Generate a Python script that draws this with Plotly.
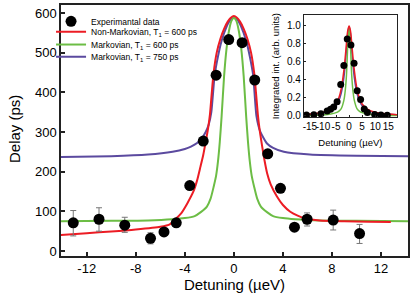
import plotly.graph_objects as go

# ---------------- main panel data ----------------
exp_x = [-13.1, -11.0, -8.9, -6.8, -5.7, -4.7, -3.6, -2.5, -1.45, -0.42, 0.67, 1.7, 2.76, 3.8, 4.94, 5.97, 8.1, 10.25]
exp_y = [71, 80, 65, 32, 48, 71, 165, 277, 443, 533, 525, 431, 245, 158, 60, 80, 78, 44]
err_up = [31, 29, 20, 14, 0, 0, 0, 0, 0, 0, 0, 0, 0, 0, 0, 16, 25, 23]
err_dn = [33, 30, 18, 14, 0, 0, 0, 0, 0, 0, 0, 0, 0, 0, 0, 17, 25, 25]

nm_x = [-14.2, -12, -10, -8, -6, -5.2, -4.78, -4.3, -3.8, -3.3, -3.0, -2.73, -2.5, -2.3, -2.1, -1.95, -1.8,
        -1.65, -1.4, -1.1, -0.8, -0.5, -0.25, 0,
        0.25, 0.5, 0.8, 1.1, 1.4, 1.65, 1.8, 1.95, 2.1, 2.3, 2.5, 2.71, 3.0, 3.5, 4.0, 4.6, 5.2, 5.84,
        7, 9, 11, 12.8]
nm_y = [40, 45, 49, 54, 61, 68, 80, 95, 120, 150, 178, 212, 242, 275, 310, 345, 400,
        450, 500, 535, 560, 578, 588, 592,
        588, 578, 560, 535, 500, 450, 400, 345, 305, 265, 228, 196, 168, 138, 116, 99, 89, 82,
        77, 75, 74, 73]

m600_x = [-14.2, -10, -7, -5, -4, -3.2, -2.7, -2.2, -1.9, -1.65, -1.45, -1.3, -1.15, -1.0, -0.8, -0.6, -0.4, -0.2, 0,
          0.2, 0.4, 0.6, 0.8, 1.0, 1.15, 1.3, 1.45, 1.65, 1.9, 2.2, 2.7, 3.2, 4, 5, 7, 10, 14.2]
m600_y = [75, 76, 77, 80, 83, 88, 98, 112, 132, 162, 190, 225, 275, 340, 440, 510, 555, 580, 588,
          580, 555, 510, 440, 340, 275, 225, 190, 162, 132, 112, 98, 88, 83, 80, 77, 76, 75]

m750_x = [-14.2, -10, -7, -5, -4, -3.5, -3, -2.6, -2.3, -2.06, -1.84, -1.57, -1.3, -1.0, -0.6, -0.3, 0,
          0.3, 0.6, 1.0, 1.3, 1.57, 1.84, 2.16, 2.7, 3.2, 4.07, 6.2, 10, 14.2]
m750_y = [237, 239, 243, 250, 257, 263, 272, 285, 300, 318, 350, 443, 490, 530, 565, 582, 588,
          582, 565, 530, 490, 443, 340, 300, 271, 260, 250, 243, 240, 239]

x_ticks = [-12, -8, -4, 0, 4, 8, 12]
x_ticktext = ["-12", "-8", "-4", "0", "4", "8", "12"]
y_ticks = [0, 100, 200, 300, 400, 500, 600]

# ---------------- inset data ----------------
in_exp_x = [-16.3, -13.5, -10.8, -8.4, -7.1, -5.9, -4.6, -3.2, -2.0, -0.7, 0.7, 1.9, 3.1, 4.4, 5.8, 7.0, 9.8, 12.2, 14.6]
in_exp_y = [0.01, 0.012, 0.022, 0.054, 0.072, 0.098, 0.155, 0.344, 0.554, 0.845, 0.78, 0.58, 0.275, 0.18, 0.076, 0.036, 0.014, 0.01, 0.006]

in_x = [-20, -15, -10, -7, -5, -4, -3, -2, -1.5, -1, -0.5, 0, 0.5, 1, 1.5, 2, 3, 4, 5, 7, 10, 15, 20]
in_nm = [0.01, 0.02, 0.04, 0.075, 0.13, 0.19, 0.3, 0.5, 0.64, 0.8, 0.94, 0.99, 0.94, 0.8, 0.64, 0.5, 0.3, 0.19, 0.13, 0.075, 0.04, 0.02, 0.01]
in_m750 = [0.01, 0.018, 0.035, 0.065, 0.11, 0.16, 0.25, 0.42, 0.56, 0.73, 0.91, 0.98, 0.91, 0.73, 0.56, 0.42, 0.25, 0.16, 0.11, 0.065, 0.035, 0.018, 0.01]
in_m600 = [0.003, 0.005, 0.01, 0.02, 0.035, 0.05, 0.08, 0.17, 0.27, 0.45, 0.78, 0.97, 0.78, 0.45, 0.27, 0.17, 0.08, 0.05, 0.035, 0.02, 0.01, 0.005, 0.003]
in_x_ticks = [-15, -10, -5, 0, 5, 10, 15]
in_x_ticktext = ["-15", "-10", "-5", "0", "5", "10", "15"]
in_y_ticks = [0, 0.2, 0.4, 0.6, 0.8, 1.0]
in_y_ticktext = ["0.0", "0.2", "0.4", "0.6", "0.8", "1.0"]

RED = "#ec1c24"
GREEN = "#6cbd45"
PURPLE = "#5b4a9f"
FONT = "Liberation Sans, Arial, sans-serif"

fig = go.Figure()

fig.add_trace(go.Scatter(x=m750_x, y=m750_y, mode="lines", line=dict(color=PURPLE, width=2, shape="spline", smoothing=0.5),
                         name="Markovian, T<sub>1</sub> = 750 ps", legend="legend4"))
fig.add_trace(go.Scatter(x=m600_x, y=m600_y, mode="lines", line=dict(color=GREEN, width=2, shape="spline", smoothing=0.6),
                         name="Markovian, T<sub>1</sub> = 600 ps", legend="legend3"))
fig.add_trace(go.Scatter(x=nm_x, y=nm_y, mode="lines", line=dict(color=RED, width=2, shape="spline", smoothing=0.6),
                         name="Non-Markovian, T<sub>1</sub> = 600 ps", legend="legend2"))
fig.add_trace(go.Scatter(x=exp_x, y=exp_y, mode="markers", marker=dict(color="black", size=11),
                         error_y=dict(type="data", array=err_up, arrayminus=err_dn, color="#777777",
                                      thickness=1, width=3),
                         name="Experimantal data", legend="legend"))

# inset traces
fig.add_trace(go.Scatter(x=in_x, y=in_m750, mode="lines", line=dict(color=PURPLE, width=1.5, shape="spline"),
                         xaxis="x2", yaxis="y2", showlegend=False))
fig.add_trace(go.Scatter(x=in_x, y=in_m600, mode="lines", line=dict(color=GREEN, width=1.5, shape="spline"),
                         xaxis="x2", yaxis="y2", showlegend=False))
fig.add_trace(go.Scatter(x=in_x, y=in_nm, mode="lines", line=dict(color=RED, width=1.5, shape="spline"),
                         xaxis="x2", yaxis="y2", showlegend=False))
fig.add_trace(go.Scatter(x=in_exp_x, y=in_exp_y, mode="markers", marker=dict(color="black", size=7),
                         xaxis="x2", yaxis="y2", showlegend=False))

axis_common = dict(showgrid=False, zeroline=False, showline=True, linecolor="#222222", linewidth=1.5,
                   mirror=True, ticks="inside", tickcolor="#222222", tickwidth=1.5)

leg_common = dict(xref="container", yref="container", xanchor="left", yanchor="middle",
                  bgcolor="rgba(0,0,0,0)", font=dict(size=8.5, family=FONT), itemwidth=30, borderwidth=0)
LEG_X = 0.123

fig.update_layout(
    width=415, height=305,
    margin=dict(l=61, r=7, t=5, b=49, autoexpand=False),
    paper_bgcolor="white", plot_bgcolor="white",
    font=dict(family=FONT, color="black"),
    showlegend=True,
    legend=dict(x=LEG_X, y=0.930, **leg_common),
    legend2=dict(x=LEG_X, y=0.896, **leg_common),
    legend3=dict(x=LEG_X, y=0.854, **leg_common),
    legend4=dict(x=LEG_X, y=0.814, **leg_common),
    xaxis=dict(domain=[0, 1], range=[-14.1, 14.2], tickvals=x_ticks, ticktext=x_ticktext, ticklen=4,
               tickangle=0, tickfont=dict(size=13), title=dict(text="Detuning (µeV)", font=dict(size=15), standoff=4),
               **axis_common),
    yaxis=dict(domain=[0, 1], range=[-12.6, 620], tickvals=y_ticks, ticklen=4,
               tickfont=dict(size=13), **axis_common),
    xaxis2=dict(domain=[0.700, 0.968], anchor="y2", range=[-17.3, 18.3], tickvals=in_x_ticks,
                ticktext=in_x_ticktext, ticklen=2, tickangle=0, tickfont=dict(size=10),
                title=dict(text="Detuning (µeV)", font=dict(size=9.5), standoff=8),
                showgrid=False, zeroline=False, showline=True, linecolor="#222222", linewidth=1,
                mirror=True, ticks="inside", tickcolor="#222222", tickwidth=1),
    yaxis2=dict(domain=[0.553, 0.96], anchor="x2", range=[-0.015, 1.11], tickvals=in_y_ticks,
                ticktext=in_y_ticktext, ticklen=2, tickfont=dict(size=10),
                title=dict(text="Integrated int. (arb. units)", font=dict(size=9.5), standoff=5),
                showgrid=False, zeroline=False, showline=True, linecolor="#222222", linewidth=1,
                mirror=True, ticks="inside", tickcolor="#222222", tickwidth=1),
    annotations=[dict(text="Delay (ps)", textangle=-90, xref="paper", yref="paper", x=-0.1326, y=0.506,
                      xanchor="center", yanchor="middle", showarrow=False, font=dict(size=15))],
)

# remove the default 8px page margin so the figure sits at the window's top-left corner
fig.write_html("out.html", config={"displayModeBar": False},
               post_script="document.body.style.margin='0px';")
